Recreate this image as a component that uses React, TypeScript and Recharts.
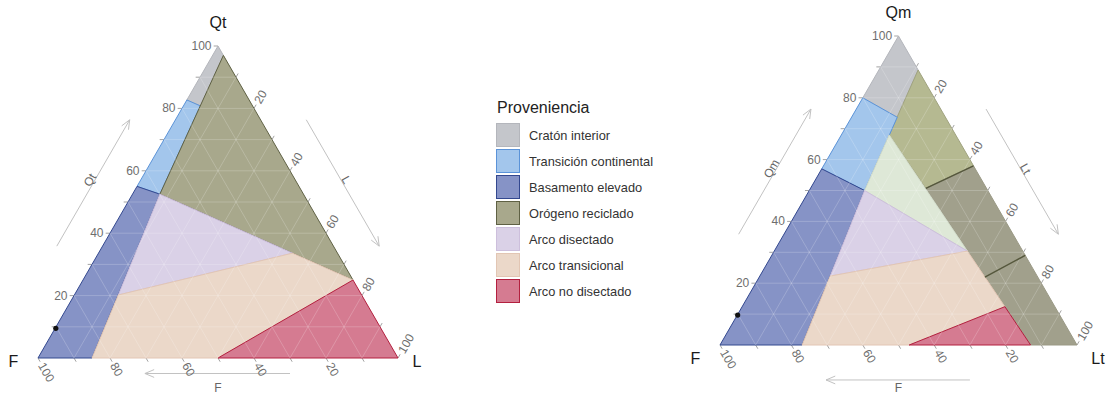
import React from 'react';
import { ScatterChart, Scatter, XAxis, YAxis, ReferenceLine, ReferenceDot } from 'recharts';

type Comp = [number, number, number]; // [Q, F, L] percentages

// ---------- legend ----------
const LEGEND_TITLE = 'Proveniencia';
const PROVENANCE = [
  'Cratón interior',
  'Transición continental',
  'Basamento elevado',
  'Orógeno reciclado',
  'Arco disectado',
  'Arco transicional',
  'Arco no disectado',
];
const PROVENANCE_FILL = ['#c4c6cb', '#a3c6ec', '#8693c6', '#a8a88c', '#dad1e7', '#ebd8c9', '#d57b91'];
const PROVENANCE_STROKE = ['#b4b6bc', '#5b93d8', '#33488f', '#5f6144', '#cdbfdc', '#e2c6b4', '#b3203f'];
const QUARTZOSE_FILL = '#b5b991';
const LITHIC_FILL = '#a1a08c';
const MIXED_FILL = '#dee8d7';
const MIXED_STROKE = '#d2dcca';

// ---------- axes ----------
const QTFL_AXES = ['Qt', 'F', 'L'];
const QMFLT_AXES = ['Qm', 'F', 'Lt'];
const GRID_VALUES = [10, 20, 30, 40, 50, 60, 70, 80, 90];
const TICK_VALUES = [10, 20, 30, 40, 50, 60, 70, 80, 90, 100];
const TICK_LABELS = [20, 40, 60, 80, 100];

// ---------- QtFL fields [Qt, F, L] ----------
const QTFL_CRATON: Comp[] = [[100, 0, 0], [97, 0, 3], [80.8, 14.5, 4.7], [82.7, 17.3, 0]];
const QTFL_TRANSITIONAL: Comp[] = [[82.7, 17.3, 0], [80.8, 14.5, 4.7], [52.5, 39.9, 7.6], [55, 45, 0]];
const QTFL_BASEMENT: Comp[] = [[0, 100, 0], [55, 45, 0], [52.5, 39.9, 7.6], [0, 85, 15]];
const QTFL_RECYCLED: Comp[] = [[97, 0, 3], [25, 0, 75], [33.6, 12.5, 53.9], [52.5, 39.9, 7.6]];
const QTFL_DISSECTED: Comp[] = [[52.5, 39.9, 7.6], [33.6, 12.5, 53.9], [20.2, 67.6, 12.2]];
const QTFL_TRANS_ARC: Comp[] = [[20.2, 67.6, 12.2], [33.6, 12.5, 53.9], [25, 0, 75], [0, 50, 50], [0, 85, 15]];
const QTFL_UNDISSECTED: Comp[] = [[0, 50, 50], [25, 0, 75], [0, 0, 100]];
const QTFL_SAMPLES: Comp[] = [[9.5, 90.3, 0.2]];

// ---------- QmFLt fields [Qm, F, Lt] ----------
const QMFLT_CRATON: Comp[] = [[100, 0, 0], [89, 0, 11], [73.7, 13.5, 12.8], [80, 20, 0]];
const QMFLT_TRANSITIONAL: Comp[] = [[80, 20, 0], [73.7, 13.5, 12.8], [50, 34.5, 15.5], [57, 43, 0]];
const QMFLT_BASEMENT: Comp[] = [[0, 100, 0], [57, 43, 0], [50, 34.5, 15.5], [22.3, 58, 19.7], [0, 77, 23]];
const QMFLT_QUARTZOSE: Comp[] = [[89, 0, 11], [58, 0, 42], [50.7, 17, 32.3], [68, 18.6, 13.4]];
const QMFLT_TRANS_RECYCLED: Comp[] = [[58, 0, 42], [29, 0, 71], [22, 14.8, 63.2], [50.7, 17, 32.3]];
const QMFLT_LITHIC: Comp[] = [[29, 0, 71], [0, 0, 100], [0, 13, 87], [22, 14.8, 63.2]];
const QMFLT_MIXED: Comp[] = [[68, 18.6, 13.4], [50, 34.5, 15.5], [30.4, 15.5, 54.1]];
const QMFLT_DISSECTED: Comp[] = [[50, 34.5, 15.5], [30.4, 15.5, 54.1], [22.3, 58, 19.7]];
const QMFLT_TRANS_ARC: Comp[] = [[22.3, 58, 19.7], [30.4, 15.5, 54.1], [12.4, 14, 73.6], [0, 47, 53], [0, 77, 23]];
const QMFLT_UNDISSECTED: Comp[] = [[0, 47, 53], [12.4, 14, 73.6], [0, 13, 87]];
const QMFLT_DIVIDERS: [Comp, Comp][] = [
  [[58, 0, 42], [50.7, 17, 32.3]],
  [[29, 0, 71], [22, 14.8, 63.2]],
];
const QMFLT_SAMPLES: Comp[] = [[9.7, 90.2, 0.1]];

// ---------- helpers ----------
const SQ = Math.sqrt(3) / 2;
const H = 100 * SQ;
const FONT = '"Liberation Sans", Arial, Helvetica, sans-serif';
type P = { x: number; y: number };
const xy = (c: Comp): P => ({ x: c[2] + c[0] / 2, y: c[0] * SQ });
const shift = (p: P, dx: number, dy: number) => ({ x: p.x + dx, y: p.y + dy });

type Field = { pts: Comp[]; fill: string; stroke: string };

const noPoint = () => <g />;

function makePolygon(fill: string, stroke: string) {
  return (props: any) => {
    const pts = (props.points || [])
      .filter((p: any) => p && Number.isFinite(p.x) && Number.isFinite(p.y))
      .map((p: any) => `${p.x},${p.y}`)
      .join(' ');
    return <polygon points={pts} fill={fill} stroke={stroke} strokeWidth={1} strokeLinejoin="round" />;
  };
}

// draws consecutive point pairs as separate segments
function makeSegments(stroke: string, width: number, opacity: number) {
  return (props: any) => {
    const pts = props.points || [];
    const out: React.ReactNode[] = [];
    for (let i = 0; i + 1 < pts.length; i += 2) {
      out.push(
        <line
          key={i}
          x1={pts[i].x}
          y1={pts[i].y}
          x2={pts[i + 1].x}
          y2={pts[i + 1].y}
          stroke={stroke}
          strokeWidth={width}
          strokeOpacity={opacity}
        />,
      );
    }
    return <g>{out}</g>;
  };
}

function makeText(text: string, size: number, color: string, anchor: 'start' | 'middle' | 'end', rotate = 0) {
  return (props: any) => {
    const { cx, cy } = props;
    return (
      <text
        x={cx}
        y={cy}
        fontSize={size}
        fill={color}
        stroke="none"
        fontFamily={FONT}
        textAnchor={anchor}
        dominantBaseline="central"
        transform={rotate ? `rotate(${rotate} ${cx} ${cy})` : undefined}
      >
        {text}
      </text>
    );
  };
}

const ARROW_COLOR = '#c2c2c2';
const arrowShape = (props: any) => {
  const { x1, y1, x2, y2 } = props;
  const a = Math.atan2(y2 - y1, x2 - x1);
  const len = 10;
  const spread = 0.4;
  const p1 = `${x2 - len * Math.cos(a - spread)},${y2 - len * Math.sin(a - spread)}`;
  const p2 = `${x2 - len * Math.cos(a + spread)},${y2 - len * Math.sin(a + spread)}`;
  return (
    <g>
      <line x1={x1} y1={y1} x2={x2} y2={y2} stroke={ARROW_COLOR} strokeWidth={1} />
      <polyline points={`${p1} ${x2},${y2} ${p2}`} fill="none" stroke={ARROW_COLOR} strokeWidth={1} />
    </g>
  );
};

type Layout = {
  left: number;
  width: number;
  margin: { top: number; left: number; right: number; bottom: number };
  cornerV: number;
  baseArrowV: number;
  baseLabelV: number;
};

const LEFT_LAYOUT: Layout = {
  left: 0,
  width: 440,
  margin: { top: 46, left: 38, right: 42, bottom: 48 },
  cornerV: -0.9,
  baseArrowV: -4.3,
  baseLabelV: -8.3,
};
const RIGHT_LAYOUT: Layout = {
  left: 690,
  width: 422,
  margin: { top: 36, left: 30, right: 35, bottom: 61 },
  cornerV: -3.9,
  baseArrowV: -9.8,
  baseLabelV: -12,
};

const TICK_COLOR = '#a3a3a3';
const TICK_TEXT = '#6e6e6e';

function TernaryPlot({
  layout,
  axes,
  fields,
  dividers,
  samples,
}: {
  layout: Layout;
  axes: string[];
  fields: Field[];
  dividers: [Comp, Comp][];
  samples: Comp[];
}) {
  const gridPts: P[] = [];
  GRID_VALUES.forEach((v) => {
    gridPts.push(xy([v, 100 - v, 0]), xy([v, 0, 100 - v]));
    gridPts.push(xy([100 - v, 0, v]), xy([0, 100 - v, v]));
    gridPts.push(xy([100 - v, v, 0]), xy([0, v, 100 - v]));
  });
  const dividerPts: P[] = [];
  dividers.forEach((d) => dividerPts.push(xy(d[0]), xy(d[1])));

  const ticks: P[][] = [];
  const upRight = { x: 0.5, y: SQ };
  const downRight = { x: 0.5, y: -SQ };
  const tl = 1.2;
  TICK_VALUES.forEach((v) => {
    const q = xy([v, 100 - v, 0]);
    ticks.push([q, shift(q, -tl, 0)]);
    const l = xy([100 - v, 0, v]);
    ticks.push([l, shift(l, tl * upRight.x, tl * upRight.y)]);
    const f = xy([0, v, 100 - v]);
    ticks.push([f, shift(f, tl * downRight.x, tl * downRight.y)]);
  });

  const labels: { p: P; text: string; anchor: 'start' | 'middle' | 'end'; rot: number }[] = [];
  const lo = 1.8;
  TICK_LABELS.forEach((v) => {
    labels.push({ p: shift(xy([v, 100 - v, 0]), -lo, 0), text: String(v), anchor: 'end', rot: 0 });
    labels.push({
      p: shift(xy([100 - v, 0, v]), lo * upRight.x, lo * upRight.y),
      text: String(v),
      anchor: 'start',
      rot: -60,
    });
    labels.push({
      p: shift(xy([0, v, 100 - v]), lo * downRight.x, lo * downRight.y),
      text: String(v),
      anchor: 'start',
      rot: 60,
    });
  });

  // arrows parallel to edges
  const off = 11;
  const labOff = 12.2;
  const leftEdge = (t: number, o: number) => ({ x: 50 * t - o * SQ, y: H * t + o * 0.5 });
  const rightEdge = (t: number, o: number) => ({ x: 100 - 50 * t + o * SQ, y: H * t + o * 0.5 });
  const arrows = [
    [leftEdge(0.295, off), leftEdge(0.7, off)],
    [rightEdge(0.7, off), rightEdge(0.295, off)],
    [{ x: 70, y: layout.baseArrowV }, { x: 29.7, y: layout.baseArrowV }],
  ];

  return (
    <div style={{ position: 'absolute', left: layout.left, top: 0 }}>
      <ScatterChart width={layout.width} height={406} margin={layout.margin}>
        <XAxis type="number" dataKey="x" domain={[0, 100]} hide />
        <YAxis type="number" dataKey="y" domain={[0, H]} hide />
        {fields.map((f, i) => (
          <Scatter
            key={`field-${i}`}
            data={f.pts.map(xy)}
            line={makePolygon(f.fill, f.stroke)}
            shape={noPoint}
            isAnimationActive={false}
          />
        ))}
        <Scatter
          data={gridPts}
          line={makeSegments('#ffffff', 1, 0.2)}
          shape={noPoint}
          isAnimationActive={false}
        />
        {dividerPts.length > 0 && (
          <Scatter
            data={dividerPts}
            line={makeSegments('#55573c', 1.4, 1)}
            shape={noPoint}
            isAnimationActive={false}
          />
        )}
        <Scatter
          data={samples.map(xy)}
          shape={(p: any) => <circle cx={p.cx} cy={p.cy} r={2.6} fill="#111" />}
          isAnimationActive={false}
        />
        {ticks.map((s, i) => (
          <ReferenceLine key={`tick-${i}`} segment={s} stroke={TICK_COLOR} strokeWidth={1} ifOverflow="visible" />
        ))}
        {labels.map((l, i) => (
          <ReferenceDot
            key={`lab-${i}`}
            x={l.p.x}
            y={l.p.y}
            r={0}
            ifOverflow="visible"
            shape={makeText(l.text, 12, TICK_TEXT, l.anchor, l.rot)}
          />
        ))}
        {arrows.map((a, i) => (
          <ReferenceLine key={`arr-${i}`} segment={a} ifOverflow="visible" shape={arrowShape} />
        ))}
        <ReferenceDot
          x={leftEdge(0.5, labOff).x}
          y={leftEdge(0.5, labOff).y}
          r={0}
          ifOverflow="visible"
          shape={makeText(axes[0], 12, '#666', 'middle', -60)}
        />
        <ReferenceDot
          x={rightEdge(0.5, labOff).x}
          y={rightEdge(0.5, labOff).y}
          r={0}
          ifOverflow="visible"
          shape={makeText(axes[2], 12, '#666', 'middle', 60)}
        />
        <ReferenceDot
          x={50}
          y={layout.baseLabelV}
          r={0}
          ifOverflow="visible"
          shape={makeText(axes[1], 12, '#666', 'middle')}
        />
        {/* vertex titles */}
        <ReferenceDot x={50} y={H + 6.5} r={0} ifOverflow="visible" shape={makeText(axes[0], 16, '#1a1a1a', 'middle')} />
        <ReferenceDot
          x={-5.5}
          y={layout.cornerV}
          r={0}
          ifOverflow="visible"
          shape={makeText(axes[1], 16, '#1a1a1a', 'end')}
        />
        <ReferenceDot
          x={104}
          y={layout.cornerV}
          r={0}
          ifOverflow="visible"
          shape={makeText(axes[2], 16, '#1a1a1a', 'start')}
        />
      </ScatterChart>
    </div>
  );
}

const F = (i: number, pts: Comp[], fill?: string): Field => ({
  pts,
  fill: fill ?? PROVENANCE_FILL[i],
  stroke: PROVENANCE_STROKE[i],
});

const QTFL_FIELDS: Field[] = [
  F(0, QTFL_CRATON),
  F(1, QTFL_TRANSITIONAL),
  F(2, QTFL_BASEMENT),
  F(3, QTFL_RECYCLED),
  F(4, QTFL_DISSECTED),
  F(5, QTFL_TRANS_ARC),
  F(6, QTFL_UNDISSECTED),
];

const QMFLT_FIELDS: Field[] = [
  F(0, QMFLT_CRATON),
  { pts: QMFLT_QUARTZOSE, fill: QUARTZOSE_FILL, stroke: '#a0a37f' },
  { pts: QMFLT_TRANS_RECYCLED, fill: LITHIC_FILL, stroke: '#9a9985' },
  { pts: QMFLT_LITHIC, fill: LITHIC_FILL, stroke: '#9a9985' },
  F(1, QMFLT_TRANSITIONAL),
  F(2, QMFLT_BASEMENT),
  { pts: QMFLT_MIXED, fill: MIXED_FILL, stroke: MIXED_STROKE },
  F(4, QMFLT_DISSECTED),
  F(5, QMFLT_TRANS_ARC),
  F(6, QMFLT_UNDISSECTED),
];

function ProvenanceLegend() {
  return (
    <div style={{ position: 'absolute', left: 496, top: 97, fontFamily: FONT }}>
      <div style={{ fontSize: 16, color: '#222', height: 22, lineHeight: '22px', marginLeft: 1 }}>{LEGEND_TITLE}</div>
      <div style={{ marginTop: 4 }}>
        {PROVENANCE.map((name, i) => (
          <div key={name} style={{ display: 'flex', alignItems: 'center', height: 24, marginBottom: 2 }}>
            <div
              style={{
                width: 24,
                height: 24,
                boxSizing: 'border-box',
                background: PROVENANCE_FILL[i],
                border: `1.5px solid ${PROVENANCE_STROKE[i]}`,
              }}
            />
            <div style={{ marginLeft: 9, fontSize: 12.8, color: '#333', whiteSpace: 'nowrap' }}>{name}</div>
          </div>
        ))}
      </div>
    </div>
  );
}

export default function App() {
  return (
    <div
      style={{
        position: 'absolute',
        left: 0,
        top: 0,
        width: 1112,
        height: 406,
        background: '#ffffff',
        overflow: 'hidden',
        fontFamily: FONT,
      }}
    >
      <TernaryPlot layout={LEFT_LAYOUT} axes={QTFL_AXES} fields={QTFL_FIELDS} dividers={[]} samples={QTFL_SAMPLES} />
      <ProvenanceLegend />
      <TernaryPlot
        layout={RIGHT_LAYOUT}
        axes={QMFLT_AXES}
        fields={QMFLT_FIELDS}
        dividers={QMFLT_DIVIDERS}
        samples={QMFLT_SAMPLES}
      />
    </div>
  );
}
